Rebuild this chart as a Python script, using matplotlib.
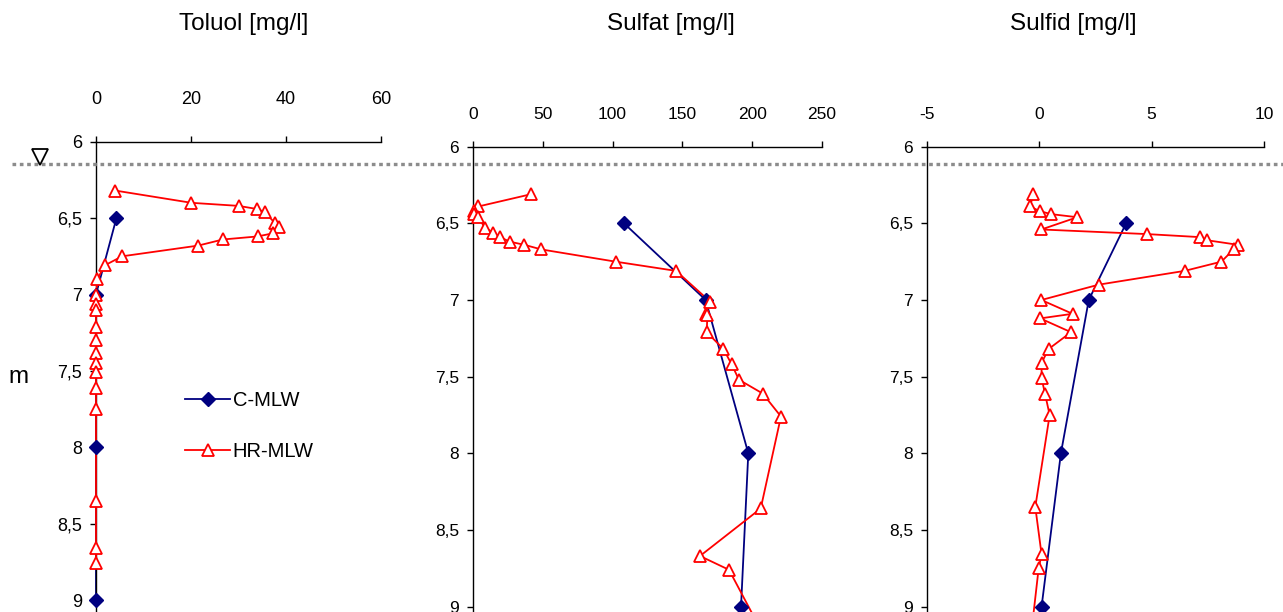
import matplotlib
matplotlib.use("Agg")
import matplotlib.pyplot as plt
from matplotlib.lines import Line2D
from matplotlib.ticker import FuncFormatter

plt.rcParams['font.family'] = ['Liberation Sans', 'DejaVu Sans']

# ---------------- data ----------------
c_depth = [6.5, 7.0, 8.0, 9.0]
c_toluol = [4.3, 0.0, 0.0, 0.0]
c_sulfat = [108.2, 166.7, 197.2, 192.0]
c_sulfid = [3.86, 2.20, 0.96, 0.10]

hr_depth_toluol = [6.32, 6.40, 6.42, 6.44, 6.46, 6.53, 6.56, 6.60, 6.62, 6.64, 6.68,
                   6.75, 6.81, 6.90, 7.00, 7.06, 7.10, 7.21, 7.30, 7.38, 7.45, 7.51,
                   7.61, 7.75, 8.35, 8.66, 8.76]
hr_toluol = [4.1, 20.1, 30.0, 33.8, 35.5, 37.6, 38.6, 37.2, 34.0, 26.7, 21.5,
             5.5, 1.8, 0.3, 0.0, 0.0, 0.0, 0.0, 0.0, 0.0, 0.0, 0.0,
             0.0, 0.0, 0.0, 0.0, 0.0]

hr_depth_sulfat = [6.31, 6.39, 6.42, 6.44, 6.46, 6.53, 6.56, 6.59, 6.62, 6.64, 6.67,
                   6.75, 6.81, 7.01, 7.09, 7.10, 7.21, 7.32, 7.42, 7.52, 7.61, 7.76,
                   8.36, 8.67, 8.76, 9.20]
hr_sulfat = [41.5, 3.8, 0.5, 1.0, 3.8, 8.6, 14.6, 19.3, 26.5, 36.8, 48.9,
             102.2, 145.4, 169.8, 166.7, 167.9, 167.4, 179.4, 185.3, 190.5, 207.5, 220.6,
             206.1, 162.6, 183.4, 209.0]

hr_depth_sulfid = [6.31, 6.39, 6.42, 6.44, 6.46, 6.54, 6.57, 6.59, 6.61, 6.64, 6.67,
                   6.75, 6.81, 6.90, 7.00, 7.09, 7.12, 7.21, 7.32, 7.41, 7.51, 7.61,
                   7.75, 8.35, 8.66, 8.75, 9.20]
hr_sulfid = [-0.27, -0.41, 0.01, 0.53, 1.69, 0.09, 4.79, 7.17, 7.46, 8.84, 8.65,
             8.10, 6.47, 2.64, 0.09, 1.48, 0.04, 1.41, 0.41, 0.10, 0.10, 0.25,
             0.46, -0.18, 0.10, -0.03, -0.38]

titles = ["Toluol [mg/l]", "Sulfat [mg/l]", "Sulfid [mg/l]"]
xlims = [(0, 60), (0, 250), (-5, 10)]
xticks = [[0, 20, 40, 60], [0, 50, 100, 150, 200, 250], [-5, 0, 5, 10]]
yticks = [6, 6.5, 7, 7.5, 8, 8.5, 9, 9.5, 10]
series_names = ["C-MLW", "HR-MLW"]

# ---------------- layout ----------------
W, H = 1283, 612
fig = plt.figure(figsize=(W / 100, H / 100), dpi=100)

NAVY = '#000080'
RED = '#ff0000'

# pixel geometry: (left, right, top_y, px_per_m)
geoms = [(96, 381, 141.7, 152.8), (473, 822, 146.7, 153.3), (927, 1264, 146.7, 153.3)]
title_x = [244, 671, 1073]
xlab_pad = [20, 14, 14]
tick_fs = [13, 12.5, 12.5]

c_vals = [c_toluol, c_sulfat, c_sulfid]
hr_d = [hr_depth_toluol, hr_depth_sulfat, hr_depth_sulfid]
hr_v = [hr_toluol, hr_sulfat, hr_sulfid]

comma_fmt = FuncFormatter(lambda v, p: ('%g' % v).replace('.', ','))

axes = []
for i in range(3):
    l, r, top, ppm = geoms[i]
    h = 4 * ppm
    ax = fig.add_axes([l / W, 1 - (top + h) / H, (r - l) / W, h / H])
    axes.append(ax)
    ax.set_xlim(*xlims[i])
    ax.set_ylim(10, 6)
    ax.xaxis.tick_top()
    ax.set_xticks(xticks[i])
    ax.set_yticks(yticks)
    ax.yaxis.set_major_formatter(comma_fmt)
    ax.xaxis.set_major_formatter(FuncFormatter(lambda v, p: '%g' % v))
    for s in ['right', 'bottom']:
        ax.spines[s].set_visible(False)
    for s in ['top', 'left']:
        ax.spines[s].set_linewidth(1.0)
        ax.spines[s].set_color('black')
    ax.tick_params(axis='x', direction='out', length=4, width=1, pad=xlab_pad[i],
                   labelsize=tick_fs[i])
    ax.tick_params(axis='y', direction='out', length=4, width=1, pad=6,
                   labelsize=tick_fs[i])
    ax.set_facecolor('none')

    # lines
    ax.plot(c_vals[i], c_depth, color=NAVY, lw=1.3, zorder=2, clip_on=False)
    ax.plot(hr_v[i], hr_d[i], color=RED, lw=1.3, zorder=3, clip_on=False)
    # markers
    ax.plot(c_vals[i], c_depth, ls='none', marker='D', ms=7, color=NAVY,
            mec=NAVY, zorder=4, clip_on=False)
    ax.plot(hr_v[i], hr_d[i], ls='none', marker='^', ms=8, mfc='white', mec=RED,
            mew=1.3, zorder=5, clip_on=False)

    fig.text(title_x[i] / W, 1 - 24 / H, titles[i], ha='center', va='center',
             fontsize=17.5)

# depth unit label
fig.text(18 / W, 1 - 377 / H, "m", ha='center', va='center', fontsize=17.5)

# groundwater level line and symbol
fig.add_artist(Line2D([12 / W, 1.0], [1 - 164.5 / H, 1 - 164.5 / H],
                      transform=fig.transFigure, color='#8c8c8c', lw=2.4,
                      linestyle=(0, (1.1, 1.1)), zorder=1))
fig.add_artist(Line2D([40 / W], [1 - 157 / H], transform=fig.transFigure,
                      marker='v', ms=11, mfc='white', mec='black', mew=1.3,
                      ls='none', zorder=6))

# legend
handles = [
    Line2D([], [], color=NAVY, lw=1.3, marker='D', ms=7, mec=NAVY),
    Line2D([], [], color=RED, lw=1.3, marker='^', ms=8, mfc='white', mec=RED, mew=1.3),
]
axes[0].legend(handles, series_names, loc='upper left',
               bbox_to_anchor=(185 / W, 1 - 391 / H), bbox_transform=fig.transFigure,
               frameon=False, fontsize=14.5, handlelength=2.25, handletextpad=0.12,
               labelspacing=1.6, borderpad=0, borderaxespad=0)

fig.savefig("out.png", dpi=100)
